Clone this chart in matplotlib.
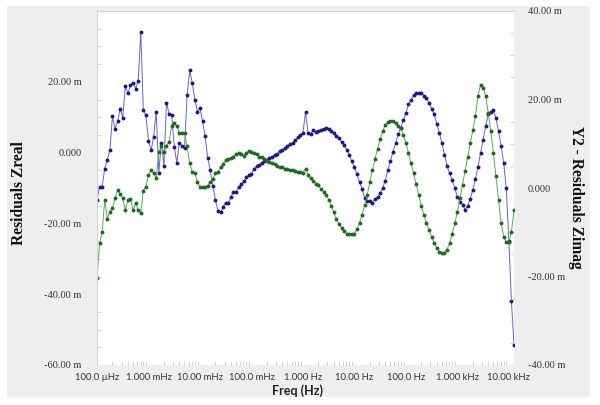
import numpy as np
import matplotlib
matplotlib.use('Agg')
import matplotlib.pyplot as plt
from matplotlib.patches import Rectangle
from matplotlib.ticker import FixedLocator, NullFormatter

# ---------- data ----------

# sweep: 100 uHz .. ~12.6 kHz, 20 points per decade
freq = np.logspace(-4, 4.1, 163)

# residuals of Zreal (left axis, m)
zreal = [
    -13.3, -9.6, -9.6, -4.5, -2.0, 0.6, 10.2, 6.8, 8.8, 12.4,
    9.9, 18.7, 16.7, 19.0, 19.8, 18.1, 20.1, 34.2, 11.9, 10.5,
    3.4, 0.6, 4.5, 11.6, -5.7, 2.8, -3.7, 14.1, 11.0, 10.7,
    1.7, -2.8, 2.7, 1.8, 1.3, 16.2, 23.2, 19.7, 15.0, 11.6,
    12.6, 8.8, 4.8, -1.6, -5.0, -9.5, -13.3, -16.6, -16.9, -15.4,
    -14.1, -14.2, -12.5, -11.1, -11.2, -9.7, -9.0, -8.0, -7.0, -6.3,
    -6.0, -4.5, -3.8, -3.6, -2.9, -2.4, -2.0, -1.5, -1.2, -0.6,
    -0.3, 0.4, 0.7, 1.3, 1.9, 2.3, 2.8, 3.6, 4.3, 4.9,
    5.5, 11.5, 5.5, 5.3, 6.3, 5.8, 6.2, 6.5, 6.8, 6.9,
    6.6, 6.2, 5.5, 4.7, 4.0, 3.1, 2.2, 0.8, -0.6, -2.5,
    -4.2, -6.1, -8.4, -10.2, -12.8, -13.7, -13.8, -14.1, -13.2, -12.6,
    -11.5, -9.9, -7.9, -5.0, -2.4, 0.3, 2.6, 5.3, 7.0, 9.1,
    11.2, 13.6, 15.0, 16.2, 16.7, 16.7, 16.9, 16.1, 15.3, 14.1,
    12.4, 10.8, 8.2, 5.6, 2.7, -0.6, -3.7, -5.9, -7.8, -10.0,
    -12.5, -14.0, -14.7, -16.1, -15.0, -13.0, -10.5, -7.5, -4.0, -0.2,
    3.7, 7.5, 10.8, 11.4, 12.0, 9.8, 6.0, 2.0, -3.0, -10.0,
    -25.0, -42.0, -54.3,
]

# residuals of Zimag (right axis, m)
zimag = [
    -20.4, -12.5, -10.0, -2.7, -6.9, -5.4, -4.6, -2.3, -0.5, -1.4,
    -2.3, -5.0, -2.7, -2.5, -5.0, -3.3, -5.0, -5.7, -0.6, 0.3,
    2.9, 4.1, 3.3, 2.2, 8.2, 9.4, 8.2, 9.4, 10.5, 14.0,
    14.8, 14.0, 12.5, 12.5, 12.5, 9.4, 5.6, 3.7, 3.3, 1.4,
    0.2, 0.2, 0.3, 0.5, 1.4, 2.0, 3.3, 3.7, 4.8, 5.4,
    6.3, 6.5, 6.7, 7.1, 7.7, 7.9, 7.6, 7.3, 7.8, 8.4,
    8.1, 7.9, 7.6, 7.1, 6.9, 6.5, 6.2, 5.9, 5.7, 5.4,
    5.0, 4.8, 4.7, 4.4, 4.4, 4.1, 4.1, 3.8, 3.7, 3.6,
    3.5, 4.4, 3.0, 2.2, 1.6, 1.0, 0.6, -0.3, -0.8, -1.5,
    -2.6, -4.0, -5.5, -7.0, -8.1, -9.0, -9.8, -10.3, -10.4, -10.4,
    -10.3, -9.3, -7.8, -6.0, -3.9, -1.5, 1.4, 4.0, 6.6, 8.9,
    11.1, 12.8, 14.3, 15.0, 15.2, 15.2, 14.8, 14.0, 13.5, 12.0,
    10.1, 7.9, 5.6, 3.3, 0.9, -1.6, -4.1, -6.1, -8.0, -9.5,
    -11.0, -12.4, -13.5, -14.5, -14.6, -14.6, -13.9, -12.4, -10.3, -8.0,
    -5.4, -2.3, 0.7, 3.9, 7.1, 10.1, 13.1, 16.2, 20.7, 23.3,
    22.6, 20.8, 16.9, 12.8, 7.9, 2.6, -2.7, -8.0, -11.0, -12.2,
    -12.2, -9.9, -5.0,
]

x_ticks = [1e-4, 1e-3, 1e-2, 1e-1, 1, 10, 100, 1e3, 1e4]
x_labels = ['100.0 \u00b5Hz', '1.000 mHz', '10.00 mHz', '100.0 mHz', '1.000 Hz',
            '10.00 Hz', '100.0 Hz', '1.000 kHz', '10.00 kHz']
y1_ticks = [-60, -40, -20, 0, 20]
y1_labels = ['-60.00 m', '-40.00 m', '-20.00 m', '0.000', '20.00 m']
y2_ticks = [-40, -20, 0, 20, 40]
y2_labels = ['-40.00 m', '-20.00 m', '0.000', '20.00 m', '40.00 m']

# ---------- plot ----------

serif = 'Liberation Serif'
sans = 'Lato'
tick_col = '#c8c8c8'

fig = plt.figure(figsize=(6.0, 4.05), dpi=100, facecolor='white')
# grey panel behind the chart
fig.patches.append(Rectangle((7/600, 1-397/405), 583/600, 391/405,
                             transform=fig.transFigure, facecolor='#eeeeee',
                             edgecolor='none', zorder=-10))

ax = fig.add_axes([97/600, 1-365/405, 417/600, 354/405])
ax.set_facecolor('white')
ax2 = ax.twinx()

ax.plot(freq, zreal, color='#6464d4', lw=0.7, marker='o', ms=1.8,
        mfc='#1a1a88', mec='#1a1a88', zorder=3)
ax2.plot(freq, zimag, color='#55ad55', lw=0.7, marker='o', ms=1.8,
         mfc='#1d6b1d', mec='#1d6b1d', zorder=2)

ax.set_xscale('log')
ax.set_xlim(1e-4, 10**4.1)
ax.set_ylim(-60, 40)
ax2.set_ylim(-40, 40)

ax.set_xticks(x_ticks)
ax.set_xticklabels(x_labels, fontfamily=sans, fontsize=6.8, color='#333333')
ax.xaxis.set_minor_locator(FixedLocator(
    [m * 10.0**e for e in range(-4, 5) for m in range(2, 10)]))
ax.xaxis.set_minor_formatter(NullFormatter())

ax.set_yticks(y1_ticks)
ax.set_yticklabels(y1_labels, fontfamily=serif, fontsize=7.5, color='#333333')
ax.yaxis.set_minor_locator(FixedLocator(np.arange(-60, 41, 5)))
ax2.set_yticks(y2_ticks)
ax2.set_yticklabels(y2_labels, fontfamily=serif, fontsize=7.5, color='#333333')
ax2.yaxis.set_minor_locator(FixedLocator(np.arange(-40, 41, 5)))

for a in (ax, ax2):
    a.tick_params(which='both', direction='in', color=tick_col, width=0.6)
    a.tick_params(which='major', length=0)
    a.tick_params(which='minor', length=3)
    for s in a.spines.values():
        s.set_color('#d4d4d4')
        s.set_linewidth(0.7)
    a.spines['bottom'].set_visible(False)
    a.spines['right'].set_visible(False)
ax.tick_params(axis='y', pad=11)
ax2.tick_params(axis='y', pad=10)
ax.tick_params(axis='x', pad=6)

ax.set_xlabel('Freq (Hz)', fontfamily=sans, fontweight='bold', fontsize=9,
              color='#222222', va='center')
ax.xaxis.set_label_coords((298-97)/417, -26/354)
ax.set_ylabel('Residuals Zreal', fontfamily=serif, fontweight='bold',
              fontsize=11.2, color='#111111', va='center')
ax.yaxis.set_label_coords((19-97)/417, (365-193)/354)
ax2.set_ylabel('Y2 - Residuals Zimag', fontfamily=serif, fontweight='bold',
               fontsize=11.2, color='#111111', rotation=270, va='center')
ax2.yaxis.set_label_coords((576-97)/417, (365-197)/354)

fig.savefig('out.png', dpi=100, facecolor='white')
